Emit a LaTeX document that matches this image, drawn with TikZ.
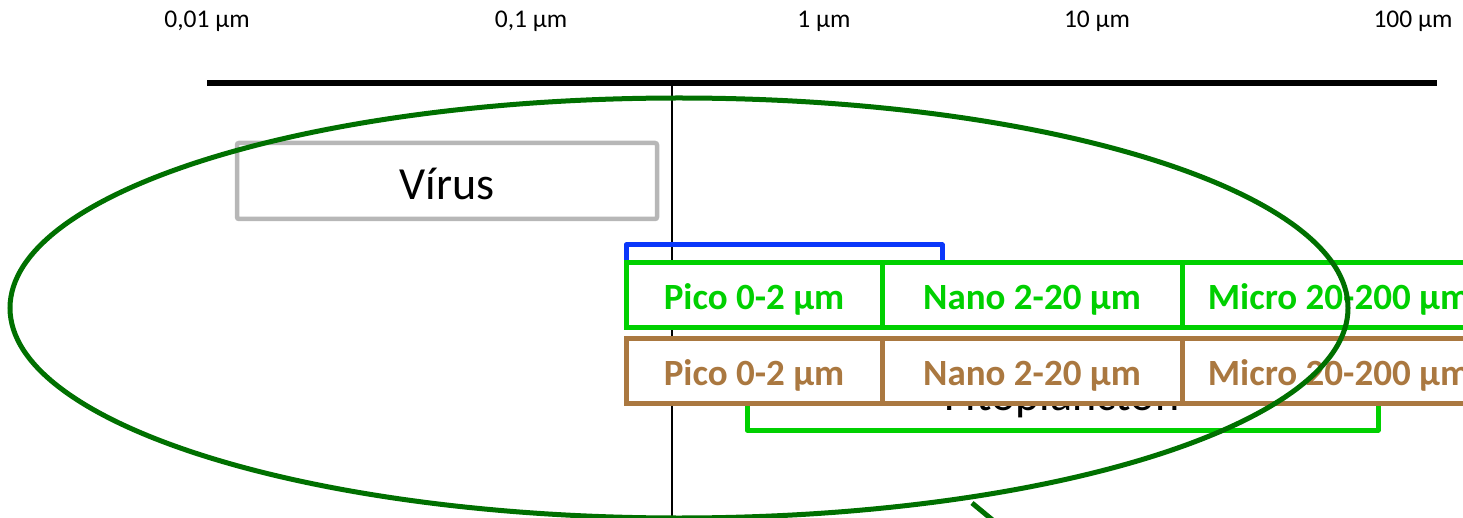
\documentclass[tikz,border=0pt]{standalone}
\usepackage{fontspec}
\setmainfont{Carlito}
\usetikzlibrary{shapes.geometric}
\definecolor{virusgray}{RGB}{183,183,183}
\definecolor{brackblue}{RGB}{10,55,250}
\definecolor{pgreen}{RGB}{0,208,0}
\definecolor{pbrown}{RGB}{170,120,64}
\definecolor{ringgreen}{RGB}{0,112,0}
\begin{document}
\begin{tikzpicture}[x=1pt,y=-1pt,
  scalelabel/.style={anchor=base,font=\fontsize{25.5}{28}\selectfont},
  rowbox/.style={rectangle,draw,line width=5pt,fill=white,inner sep=0pt,outer sep=0pt,
    minimum height=64pt,text height=29pt,text depth=0pt,
    font=\fontsize{37}{40}\selectfont\bfseries},
  greenbox/.style={rowbox,draw=pgreen,text=pgreen},
  brownbox/.style={rowbox,draw=pbrown,text=pbrown},
  bracket/.style={line width=5pt,line join=round},
  bigtext/.style={font=\fontsize{46}{50}\selectfont}]
\useasboundingbox (0,0) rectangle (1463,518);

% reference line at 0.2 um
\coordinate (vtop) at (672,83);
\coordinate (vbot) at (672,520);
\draw[line width=1.6pt] (vtop) -- (vbot);

% size axis
\coordinate (axl) at (207,83);
\coordinate (axr) at (1437,83);
\draw[line width=6pt] (axl) -- (axr);
\node[scalelabel] (s1) at (207,28) {0,01 µm};
\node[scalelabel] (s2) at (531,28) {0,1 µm};
\node[scalelabel] (s3) at (824,28) {1 µm};
\node[scalelabel] (s4) at (1097,28) {10 µm};
\node[scalelabel] (s5) at (1413,28) {100 µm};

% viruses
\node[rectangle,draw=virusgray,line width=4.5pt,rounded corners=2pt,fill=white,
  minimum width=420pt,minimum height=76pt,inner sep=0pt,
  text height=38pt,text depth=0pt,bigtext] (virus) at (447,181) {Vírus};

% bacteria bracket
\coordinate (b1) at (626,270);
\coordinate (b2) at (626,245);
\coordinate (b3) at (942,245);
\coordinate (b4) at (942,270);
\draw[bracket,draw=brackblue] (b1) -- (b2) -- (b3) -- (b4);

% phytoplankton bracket
\coordinate (f1) at (747,395);
\coordinate (f2) at (747,430);
\coordinate (f3) at (1378,430);
\coordinate (f4) at (1378,395);
\draw[bracket,draw=pgreen] (f1) -- (f2) -- (f3) -- (f4);
\node[bigtext,anchor=base] (fito) at (1062,410) {Fitoplancton};

% size classes
\node[greenbox,minimum width=256pt] (gpico) at (754,295) {Pico 0-2 µm};
\node[greenbox,minimum width=300pt] (gnano) at (1032,295) {Nano 2-20 µm};
\node[greenbox,minimum width=314pt] (gmicro) at (1339,295) {Micro 20-200 µm};
\node[brownbox,minimum width=256pt,minimum height=65pt] (bpico) at (754,370.5) {Pico 0-2 µm};
\node[brownbox,minimum width=300pt,minimum height=65pt] (bnano) at (1032,370.5) {Nano 2-20 µm};
\node[brownbox,minimum width=314pt,minimum height=65pt] (bmicro) at (1339,370.5) {Micro 20-200 µm};

% enclosing ellipse and its pointer
\node[ellipse,draw=ringgreen,line width=5pt,minimum width=1338pt,minimum height=420pt,
  inner sep=0pt] (ring) at (679,308) {};
\coordinate (p1) at (972,503);
\coordinate (p2) at (995,522);
\draw[line width=5pt,draw=ringgreen] (p1) -- (p2);
\end{tikzpicture}
\end{document}
